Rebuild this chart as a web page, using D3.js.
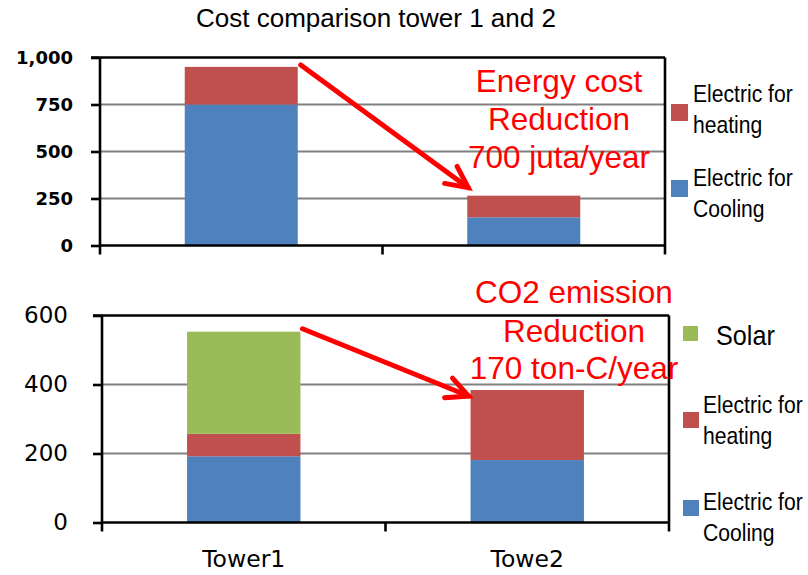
<!DOCTYPE html>
<html>
<head>
<meta charset="utf-8">
<script src="https://cdn.jsdelivr.net/npm/d3@7"></script>
<style>
  body { margin: 0; background: #fff; }
  svg { display: block; }
</style>
</head>
<body>
<svg width="808" height="575"></svg>
<script>
// data
const categories = ["Tower1", "Towe2"];

const costCooling = [750, 150];
const costHeating = [200, 115];
const costTicks = [0, 250, 500, 750, 1000];

const co2Cooling = [192, 181];
const co2Heating = [65, 203];
const co2Solar = [296, 0];
const co2Ticks = [0, 200, 400, 600];

const colors = { cooling: "#4F81BD", heating: "#C0504D", solar: "#9BBB59" };

const svg = d3.select("svg");

svg.append("text")
  .attr("x", 376).attr("y", 27)
  .attr("text-anchor", "middle")
  .style("font-family", "'Liberation Sans', Arial, sans-serif")
  .style("font-size", "26px")
  .text("Cost comparison tower 1 and 2");

// one stacked panel
function panel(opts) {
  const { left, right, top, bottom, max, ticks, series, tickFont, tickFmt } = opts;
  const g = svg.append("g");

  const x = d3.scaleBand().domain(categories).range([left, right])
    .paddingInner(0.6).paddingOuter(0.3);
  const y = d3.scaleLinear().domain([0, max]).range([bottom, top]);

  // gray gridlines
  g.selectAll(".grid").data(ticks.filter(t => t > 0 && t < max))
    .enter().append("line")
      .attr("x1", left).attr("x2", right)
      .attr("y1", d => y(d)).attr("y2", d => y(d))
      .attr("stroke", "#808080").attr("stroke-width", 2.2);

  // stacked bars
  const stack = d3.stack().keys(series.map(s => s.key));
  const rows = categories.map((c, i) => {
    const r = { cat: c };
    series.forEach(s => r[s.key] = s.values[i]);
    return r;
  });
  const layers = stack(rows);
  layers.forEach(layer => {
    g.selectAll(null).data(layer).enter().append("rect")
      .attr("x", d => x(d.data.cat))
      .attr("width", x.bandwidth())
      .attr("y", d => y(d[1]))
      .attr("height", d => y(d[0]) - y(d[1]))
      .attr("fill", colors[layer.key]);
  });

  // frame: top and right border
  g.append("line").attr("x1", left - 9).attr("x2", right)
    .attr("y1", top).attr("y2", top)
    .attr("stroke", "#000").attr("stroke-width", 2.6);
  g.append("line").attr("x1", right).attr("x2", right)
    .attr("y1", top).attr("y2", bottom + 9)
    .attr("stroke", "#000").attr("stroke-width", 2.6);

  // y axis
  const yAxis = d3.axisLeft(y).tickValues(ticks).tickSize(9).tickPadding(opts.pad)
    .tickFormat(tickFmt);
  const ya = g.append("g").attr("transform", `translate(${left},0)`).call(yAxis);
  ya.select(".domain").attr("stroke-width", 2.6).attr("d", `M0,${top}V${bottom + 9}`);
  ya.selectAll(".tick line").attr("stroke-width", 2.6);
  ya.selectAll("text")
    .style("font-family", "'DejaVu Sans', Verdana, sans-serif")
    .style("font-size", tickFont.size)
    .style("font-weight", tickFont.weight)
    .attr("fill", "#000");

  // x axis with a tick between the categories
  g.append("line").attr("x1", left).attr("x2", right)
    .attr("y1", bottom).attr("y2", bottom)
    .attr("stroke", "#000").attr("stroke-width", 2.6);
  const mid = (x(categories[0]) + x.bandwidth() + x(categories[1])) / 2;
  g.append("line").attr("x1", mid).attr("x2", mid)
    .attr("y1", bottom).attr("y2", bottom + 9)
    .attr("stroke", "#000").attr("stroke-width", 2.6);

  return { x, y };
}

const p1 = panel({
  left: 100, right: 665, top: 57.5, bottom: 245.5, max: 1000, ticks: costTicks,
  series: [{ key: "cooling", values: costCooling }, { key: "heating", values: costHeating }],
  tickFont: { size: "18px", weight: "bold" }, tickFmt: d3.format(","), pad: 18
});

const p2 = panel({
  left: 102, right: 669, top: 315.5, bottom: 522.5, max: 600, ticks: co2Ticks,
  series: [{ key: "cooling", values: co2Cooling }, { key: "heating", values: co2Heating },
           { key: "solar", values: co2Solar }],
  tickFont: { size: "23px", weight: "normal" }, tickFmt: d3.format("d"), pad: 25
});

// category labels under the lower panel
svg.selectAll(".cat").data(categories).enter().append("text")
  .attr("x", d => p2.x(d) + p2.x.bandwidth() / 2)
  .attr("y", 567)
  .attr("text-anchor", "middle")
  .style("font-family", "'DejaVu Sans', Verdana, sans-serif")
  .style("font-size", "23.5px")
  .text(d => d);

// legends
function legendItem(sx, sy, size, tx, item, fontSize, scaleX) {
  svg.append("rect").attr("x", sx).attr("y", sy).attr("width", size).attr("height", size)
    .attr("fill", item.color);
  item.text.forEach((t, i) => {
    svg.append("g").attr("transform", `translate(${tx},${item.base[i]}) scale(${scaleX},1)`)
      .append("text")
      .style("font-family", "'Liberation Sans', Arial, sans-serif")
      .style("font-size", fontSize)
      .text(t);
  });
}

legendItem(671, 104, 17, 693, { color: colors.heating, text: ["Electric for", "heating"], base: [102, 133] }, "24px", 0.88);
legendItem(671, 180, 17, 693, { color: colors.cooling, text: ["Electric for", "Cooling"], base: [186, 217] }, "24px", 0.88);

legendItem(683, 326, 15, 716, { color: colors.solar, text: ["Solar"], base: [345] }, "28px", 0.9);
legendItem(683, 412, 16, 703, { color: colors.heating, text: ["Electric for", "heating"], base: [413, 444] }, "24px", 0.88);
legendItem(683, 500, 16, 703, { color: colors.cooling, text: ["Electric for", "Cooling"], base: [510, 541] }, "24px", 0.88);

// red annotations
function note(cx, bases, lines) {
  lines.forEach((t, i) => {
    svg.append("text").attr("x", cx).attr("y", bases[i])
      .attr("text-anchor", "middle")
      .attr("fill", "#FF0000")
      .style("font-family", "'Liberation Sans', Arial, sans-serif")
      .style("font-size", "31.5px")
      .text(t);
  });
}
note(559, [92, 129.5, 168], ["Energy cost", "Reduction", "700 juta/year"]);
note(574, [303, 341.5, 379], ["CO2 emission", "Reduction", "170 ton-C/year"]);

function arrow(from, to) {
  const ang = Math.atan2(from[1] - to[1], from[0] - to[0]);
  const len = 24, spread = 26 * Math.PI / 180;
  const a1 = [to[0] + len * Math.cos(ang + spread), to[1] + len * Math.sin(ang + spread)];
  const a2 = [to[0] + len * Math.cos(ang - spread), to[1] + len * Math.sin(ang - spread)];
  const line = d3.line();
  svg.append("path").attr("d", line([from, to]))
    .attr("stroke", "#FF0000").attr("stroke-width", 5).attr("fill", "none")
    .attr("stroke-linecap", "round");
  svg.append("path").attr("d", line([a1, to, a2]))
    .attr("stroke", "#FF0000").attr("stroke-width", 5).attr("fill", "none")
    .attr("stroke-linecap", "round").attr("stroke-linejoin", "miter");
}

// arrows run from the top of Tower1 to the top of Tower2
const t1a = costCooling[0] + costHeating[0], t2a = costCooling[1] + costHeating[1];
arrow([p1.x(categories[0]) + p1.x.bandwidth() + 3, p1.y(t1a) - 2],
      [p1.x(categories[1]) + 1, p1.y(t2a) - 8]);
const t1b = co2Cooling[0] + co2Heating[0] + co2Solar[0], t2b = co2Cooling[1] + co2Heating[1] + co2Solar[1];
arrow([p2.x(categories[0]) + p2.x.bandwidth() + 2, p2.y(t1b) - 3],
      [p2.x(categories[1]) - 2, p2.y(t2b) + 6]);
</script>
</body>
</html>
